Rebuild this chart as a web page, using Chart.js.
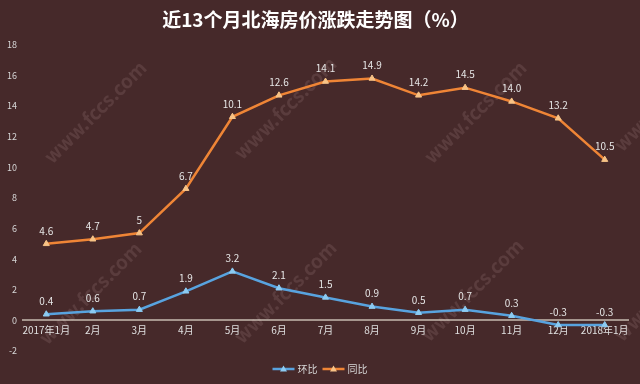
<!DOCTYPE html>
<html>
<head>
<meta charset="utf-8">
<script src="https://cdn.jsdelivr.net/npm/chart.js@4/dist/chart.umd.min.js"></script>
<style>
  html, body { margin: 0; padding: 0; background: #46292a; }
  #wrap { width: 640px; height: 384px; }
</style>
</head>
<body>
<div id="wrap"><canvas id="chart"></canvas></div>
<script>
// 数据（同比系列在图中叠加在环比之上）
const months = ["2017年1月", "2月", "3月", "4月", "5月", "6月", "7月", "8月", "9月", "10月", "11月", "12月", "2018年1月"];
const huanbi = [0.4, 0.6, 0.7, 1.9, 3.2, 2.1, 1.5, 0.9, 0.5, 0.7, 0.3, -0.3, -0.3];
const tongbi = [4.6, 4.7, 5, 6.7, 10.1, 12.6, 14.1, 14.9, 14.2, 14.5, 14.0, 13.2, 10.5];
const huanbiText = ["0.4", "0.6", "0.7", "1.9", "3.2", "2.1", "1.5", "0.9", "0.5", "0.7", "0.3", "-0.3", "-0.3"];
const tongbiText = ["4.6", "4.7", "5", "6.7", "10.1", "12.6", "14.1", "14.9", "14.2", "14.5", "14.0", "13.2", "10.5"];
const yMin = -2, yMax = 18, yStep = 2;

const BG = "#46292a";
const FONT = "'Noto Sans CJK SC', 'Noto Sans', sans-serif";

const bgPlugin = {
    id: "bg",
    beforeDraw(chart) {
        const { ctx, width, height } = chart;
        ctx.save();
        ctx.fillStyle = BG;
        ctx.fillRect(0, 0, width, height);
        ctx.restore();
    }
};

// 水印 www.fccs.com
const watermarkPlugin = {
    id: "watermark",
    beforeDatasetsDraw(chart) {
        const { ctx } = chart;
        const spots = [[95, 112], [285, 108], [475, 112], [665, 100], [90, 293], [285, 292], [472, 290], [665, 290]];
        ctx.save();
        ctx.font = "bold 19px " + FONT;
        ctx.fillStyle = "rgba(255,215,215,0.11)";
        ctx.textAlign = "center";
        ctx.textBaseline = "middle";
        spots.forEach(([x, y]) => {
            ctx.save();
            ctx.translate(x, y);
            ctx.rotate(-Math.PI / 4);
            ctx.fillText("www.fccs.com", 0, 0);
            ctx.restore();
        });
        ctx.restore();
    }
};

// 数据标签
const valueLabelPlugin = {
    id: "valueLabels",
    afterDatasetsDraw(chart) {
        const { ctx } = chart;
        ctx.save();
        ctx.font = "10px " + FONT;
        ctx.fillStyle = "#e6e6e6";
        ctx.textAlign = "center";
        ctx.textBaseline = "middle";
        chart.data.datasets.forEach((ds, i) => {
            const meta = chart.getDatasetMeta(i);
            meta.data.forEach((pt, j) => {
                ctx.fillText(ds.valueText[j], pt.x, pt.y - 13);
            });
        });
        ctx.restore();
    }
};

// 图例（线 + 三角标记），画在底部居中
const legendPlugin = {
    id: "lineLegend",
    afterDraw(chart) {
        const { ctx } = chart;
        const y = 369, lineW = 22;
        ctx.save();
        ctx.font = "10px " + FONT;
        ctx.textBaseline = "middle";
        ctx.textAlign = "left";
        const items = chart.data.datasets.map(ds => ({ ds, w: ctx.measureText(ds.label).width }));
        const total = items.reduce((a, it) => a + lineW + 3 + it.w, 0) + 5 * (items.length - 1);
        let x = chart.width / 2 - total / 2;
        items.forEach(({ ds, w }) => {
            ctx.strokeStyle = ds.borderColor;
            ctx.lineWidth = 2.5;
            ctx.beginPath(); ctx.moveTo(x, y); ctx.lineTo(x + lineW, y); ctx.stroke();
            const cx = x + lineW / 2;
            ctx.fillStyle = ds.pointBackgroundColor;
            ctx.beginPath(); ctx.moveTo(cx, y - 3.5); ctx.lineTo(cx + 3.5, y + 2.5); ctx.lineTo(cx - 3.5, y + 2.5); ctx.closePath(); ctx.fill();
            ctx.fillStyle = "#d9d9d9";
            ctx.fillText(ds.label, x + lineW + 3, y);
            x += lineW + 3 + w + 5;
        });
        ctx.restore();
    }
};

const series = [
    { label: "环比", data: huanbi, valueText: huanbiText, color: "#58a3df", fill: "#8ccbf2" },
    { label: "同比", data: tongbi, valueText: tongbiText, color: "#ef8536", fill: "#f8c386" }
];

new Chart(document.getElementById("chart"), {
    type: "line",
    data: {
        labels: months,
        datasets: series.map(s => ({
            label: s.label,
            data: s.data,
            valueText: s.valueText,
            borderColor: s.color,
            backgroundColor: s.fill,
            borderWidth: 2.5,
            tension: 0,
            pointStyle: "triangle",
            pointRadius: 3.5,
            pointBackgroundColor: s.fill,
            pointBorderColor: s.fill,
            pointBorderWidth: 1
        }))
    },
    options: {
        responsive: true,
        maintainAspectRatio: false,
        animation: false,
        layout: { padding: { left: 3, right: 12, top: 0, bottom: 33 } },
        plugins: {
            title: {
                display: true,
                text: "近13个月北海房价涨跌走势图（%）",
                color: "#ffffff",
                font: { size: 19, family: FONT, weight: "bold" },
                padding: { top: 8, bottom: 14 }
            },
            legend: { display: false },
            tooltip: { enabled: false }
        },
        scales: {
            x: {
                position: { y: 0 },
                offset: true,
                grid: { display: false, drawTicks: false },
                border: { display: true, color: "#a6968e", width: 2 },
                ticks: {
                    color: "#e0e0e0",
                    font: { size: 10, family: FONT },
                    maxRotation: 0,
                    autoSkip: false,
                    padding: 4
                }
            },
            y: {
                stacked: true,
                min: yMin,
                max: yMax,
                grid: { display: false, drawTicks: false },
                border: { display: false },
                ticks: {
                    stepSize: yStep,
                    color: "#d6d6d6",
                    font: { size: 9, family: FONT },
                    padding: 6
                },
                afterFit(scale) { scale.width = 20; }
            }
        }
    },
    plugins: [bgPlugin, watermarkPlugin, valueLabelPlugin, legendPlugin]
});
</script>
</body>
</html>
